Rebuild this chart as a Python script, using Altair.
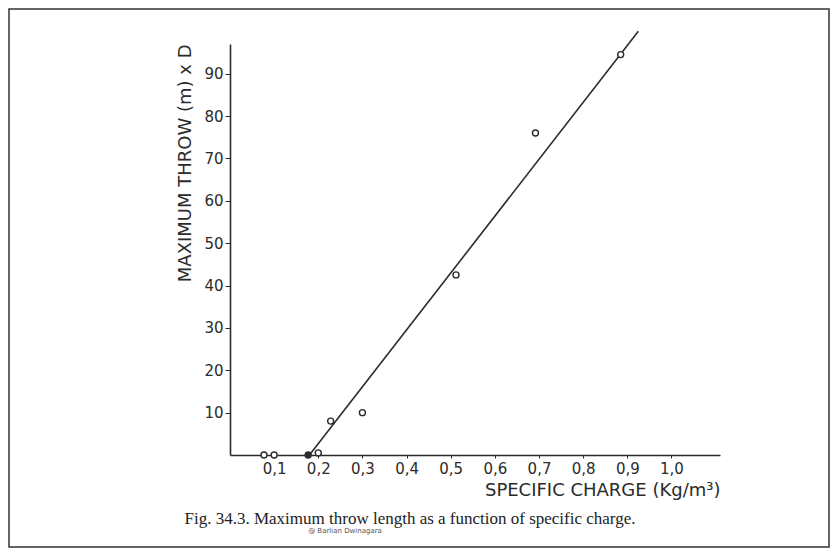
import altair as alt
import pandas as pd

# ---- data ----
charge = [0.077, 0.100, 0.177, 0.200, 0.228, 0.300, 0.512, 0.692, 0.885]
throw = [0.0, 0.0, 0.0, 0.5, 8.0, 10.0, 42.5, 76.0, 94.5]
filled = [False, False, True, False, False, False, False, False, False]

fit_charge = [0.18, 0.925]
fit_throw = [0.0, 100.0]

x_ticks = [0.1, 0.2, 0.3, 0.4, 0.5, 0.6, 0.7, 0.8, 0.9, 1.0]
y_ticks = [10, 20, 30, 40, 50, 60, 70, 80, 90]

x_title = "SPECIFIC CHARGE (Kg/m³)"
y_title = "MAXIMUM THROW (m) x D"
caption = "Fig. 34.3. Maximum throw length as a function of specific charge."
credit = "@ Barlian Dwinagara"

pts = pd.DataFrame({"charge": charge, "throw": throw, "filled": filled})
fit = pd.DataFrame({"charge": fit_charge, "throw": fit_throw})
one = pd.DataFrame({"k": [0]})

INK = "#2b2b2b"
FONT = "DejaVu Sans"

xscale = alt.Scale(domain=[0, 1.11], nice=False, zero=False)
yscale = alt.Scale(domain=[0, 97], nice=False, zero=False)

xaxis = alt.Axis(
    values=x_ticks,
    labelExpr="replace(format(datum.value, '.1f'), '.', ',')",
    title=x_title, titleAnchor="end", titleFont=FONT, titleFontSize=18,
    titleFontWeight="normal", titleColor=INK, titlePadding=5,
    labelFont=FONT, labelFontSize=15, labelColor=INK, labelPadding=3,
    tickSize=3, tickColor=INK, domainColor=INK, domainWidth=1.6, grid=False,
)
yaxis = alt.Axis(
    values=y_ticks,
    title=y_title, titleAnchor="end", titleFont=FONT, titleFontSize=18,
    titleFontWeight="normal", titleColor=INK, titlePadding=9,
    labelFont=FONT, labelFontSize=15, labelColor=INK, labelPadding=2,
    tickSize=5, tickColor=INK, domainColor=INK, domainWidth=1.6, grid=False,
)

line = alt.Chart(fit).mark_line(color=INK, strokeWidth=1.6, clip=False).encode(
    x=alt.X("charge:Q", scale=xscale, axis=xaxis),
    y=alt.Y("throw:Q", scale=yscale, axis=yaxis),
)

points = alt.Chart(pts).mark_point(shape="circle", size=36, strokeWidth=1.4, color=INK, opacity=1).encode(
    x=alt.X("charge:Q", scale=xscale),
    y=alt.Y("throw:Q", scale=yscale),
    fill=alt.condition("datum.filled", alt.value(INK), alt.value("white")),
)

cap = alt.Chart(one).mark_text(font="Liberation Serif", fontSize=17, color="#222", align="center", baseline="middle").encode(
    x=alt.value(180), y=alt.value(475), text=alt.value(caption)
)
cred = alt.Chart(one).mark_text(font=FONT, fontSize=7, color="#555", align="center", baseline="middle").encode(
    x=alt.value(115), y=alt.value(487), text=alt.value(credit)
)
frame = alt.Chart(one).mark_rect(fill=None, stroke="#333", strokeWidth=1.5, clip=False).encode(
    x=alt.value(-221), x2=alt.value(599), y=alt.value(-35), y2=alt.value(503)
)

chart = alt.layer(frame, line, points, cap, cred).properties(
    width=490, height=411,
    autosize=alt.AutoSizeParams(type="none"),
    padding={"left": 222, "top": 36, "right": 110, "bottom": 93},
    background="white",
).configure_view(stroke=None)

chart.save("out.html", embed_options={"renderer": "svg", "actions": False})
